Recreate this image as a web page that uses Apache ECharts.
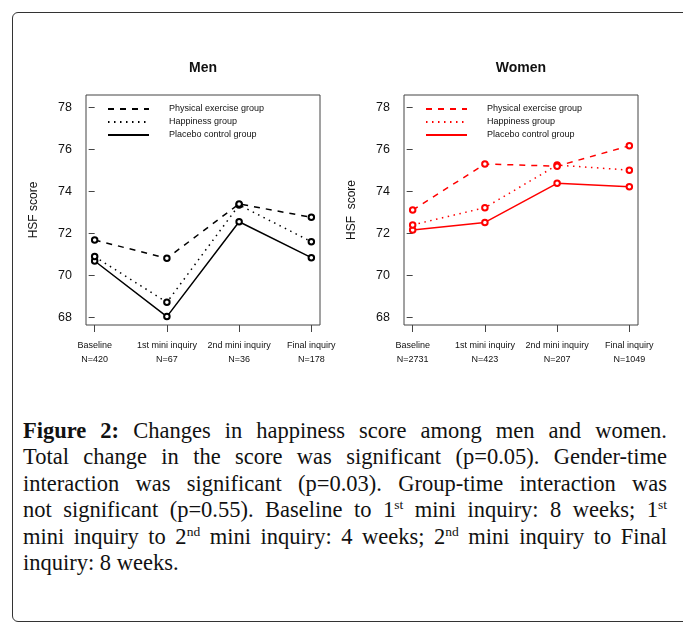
<!DOCTYPE html>
<html>
<head>
<meta charset="utf-8">
<script src="https://cdn.jsdelivr.net/npm/echarts@6/dist/echarts.min.js"></script>
<style>
  html, body { margin: 0; padding: 0; background: #fff; }
  #page { position: relative; width: 683px; height: 623px; overflow: hidden; }
  #frame {
    position: absolute; left: 12px; top: 12px; right: -10px; height: 608px;
    border: 1.5px solid #333; border-radius: 6px;
  }
  #chart { position: absolute; left: 0; top: 0; width: 683px; height: 400px; }
  #caption {
    position: absolute; left: 23px; width: 644px; top: 418px;
    font-family: "Liberation Serif", serif; font-size: 22.5px; line-height: 26.4px; color: #111;
  }
  #caption div { text-align: justify; text-align-last: justify; white-space: nowrap; }
  #caption div.last { text-align-last: left; }
  #caption sup { font-size: 0.6em; line-height: 0; vertical-align: 0.6em; }
</style>
</head>
<body>
<div id="page">
  <div id="frame"></div>
  <div id="chart"></div>
  <div id="caption">
    <div><b>Figure 2:</b> Changes in happiness score among men and women.</div>
    <div>Total change in the score was significant (p=0.05). Gender-time</div>
    <div>interaction was significant (p=0.03). Group-time interaction was</div>
    <div>not significant (p=0.55). Baseline to 1<sup>st</sup> mini inquiry: 8 weeks; 1<sup>st</sup></div>
    <div>mini inquiry to 2<sup>nd</sup> mini inquiry: 4 weeks; 2<sup>nd</sup> mini inquiry to Final</div>
    <div class="last">inquiry: 8 weeks.</div>
  </div>
</div>
<script>
// Time points and sample sizes
const categories = ['Baseline', '1st mini inquiry', '2nd mini inquiry', 'Final inquiry'];
const menN = ['N=420', 'N=67', 'N=36', 'N=178'];
const womenN = ['N=2731', 'N=423', 'N=207', 'N=1049'];
const groupNames = ['Physical exercise group', 'Happiness group', 'Placebo control group'];
const yTicks = [68, 70, 72, 74, 76, 78];

// HSF scores
const menExercise = [71.68, 70.81, 73.40, 72.76];
const menHappiness = [70.89, 68.71, 73.35, 71.60];
const menPlacebo = [70.68, 68.03, 72.55, 70.84];
const womenExercise = [73.11, 75.30, 75.20, 76.17];
const womenHappiness = [72.40, 73.22, 75.25, 75.01];
const womenPlacebo = [72.16, 72.52, 74.38, 74.22];

const FONT = 'Liberation Sans';
const lineTypes = [[6, 6], [1.5, 4.5], 'solid'];

const chart = echarts.init(document.getElementById('chart'), null, { renderer: 'canvas' });

function toPoints(values) {
  return values.map((v, i) => [i, v]);
}

function makeXAxis(gridIndex, nLabels) {
  return {
    type: 'value',
    gridIndex: gridIndex,
    min: -0.12,
    max: 3.12,
    axisLine: { show: false },
    splitLine: { show: false },
    axisTick: {
      show: true, length: 7, inside: false,
      customValues: [0, 1, 2, 3],
      lineStyle: { color: '#444', width: 1 }
    },
    axisLabel: {
      customValues: [0, 1, 2, 3],
      margin: 14,
      fontFamily: FONT, fontSize: 9, color: '#111', lineHeight: 14,
      formatter: (v) => categories[Math.round(v)] + '\n' + nLabels[Math.round(v)]
    }
  };
}

function makeYAxis(gridIndex, name) {
  return {
    type: 'value',
    gridIndex: gridIndex,
    min: 67.63,
    max: 78.59,
    name: name,
    nameLocation: 'middle',
    nameGap: 46,
    nameTextStyle: { fontFamily: FONT, fontSize: 12, color: '#111' },
    axisLine: { show: false },
    splitLine: { show: false },
    axisTick: {
      show: true, length: 6,
      customValues: yTicks,
      lineStyle: { color: '#444', width: 1 }
    },
    axisLabel: {
      customValues: yTicks,
      margin: 14,
      fontFamily: FONT, fontSize: 12.5, color: '#111'
    }
  };
}

function makeSeries(prefix, gridIndex, color, dataSets) {
  return dataSets.map((values, k) => ({
    name: prefix + groupNames[k],
    type: 'line',
    xAxisIndex: gridIndex,
    yAxisIndex: gridIndex,
    data: toPoints(values),
    symbol: 'emptyCircle',
    symbolSize: 5.5,
    lineStyle: { color: color, width: 1.5, type: lineTypes[k] },
    itemStyle: { color: color, borderColor: color, borderWidth: 1.2 },
    emphasis: { disabled: true },
    z: 3 - k
  }));
}

function makeLegend(left, prefix) {
  return {
    left: left,
    top: 104,
    orient: 'vertical',
    padding: 0,
    itemWidth: 41,
    itemHeight: 10,
    itemGap: 3,
    selectedMode: false,
    itemStyle: { opacity: 0 },
    data: groupNames.map((g) => prefix + g),
    formatter: (n) => n.replace(prefix, ''),
    textStyle: { fontFamily: FONT, fontSize: 9, color: '#111', padding: [0, 0, 0, 15] }
  };
}

const option = {
  animation: false,
  backgroundColor: 'transparent',
  title: [
    { text: 'Men', left: 203, top: 61, textAlign: 'center', padding: 0,
      textStyle: { fontFamily: FONT, fontSize: 14, fontWeight: 'bold', color: '#111' } },
    { text: 'Women', left: 521, top: 61, textAlign: 'center', padding: 0,
      textStyle: { fontFamily: FONT, fontSize: 14, fontWeight: 'bold', color: '#111' } }
  ],
  legend: [makeLegend(107, 'Men: '), makeLegend(425, 'Women: ')],
  grid: [
    { left: 86, top: 95, width: 234, height: 230, show: true, borderColor: '#444', borderWidth: 1 },
    { left: 404, top: 95, width: 234, height: 230, show: true, borderColor: '#444', borderWidth: 1 }
  ],
  xAxis: [makeXAxis(0, menN), makeXAxis(1, womenN)],
  yAxis: [makeYAxis(0, 'HSF score'), makeYAxis(1, 'HSF  score')],
  series: [].concat(
    makeSeries('Men: ', 0, '#000000', [menExercise, menHappiness, menPlacebo]),
    makeSeries('Women: ', 1, '#ff0000', [womenExercise, womenHappiness, womenPlacebo])
  )
};

chart.setOption(option);
</script>
</body>
</html>
